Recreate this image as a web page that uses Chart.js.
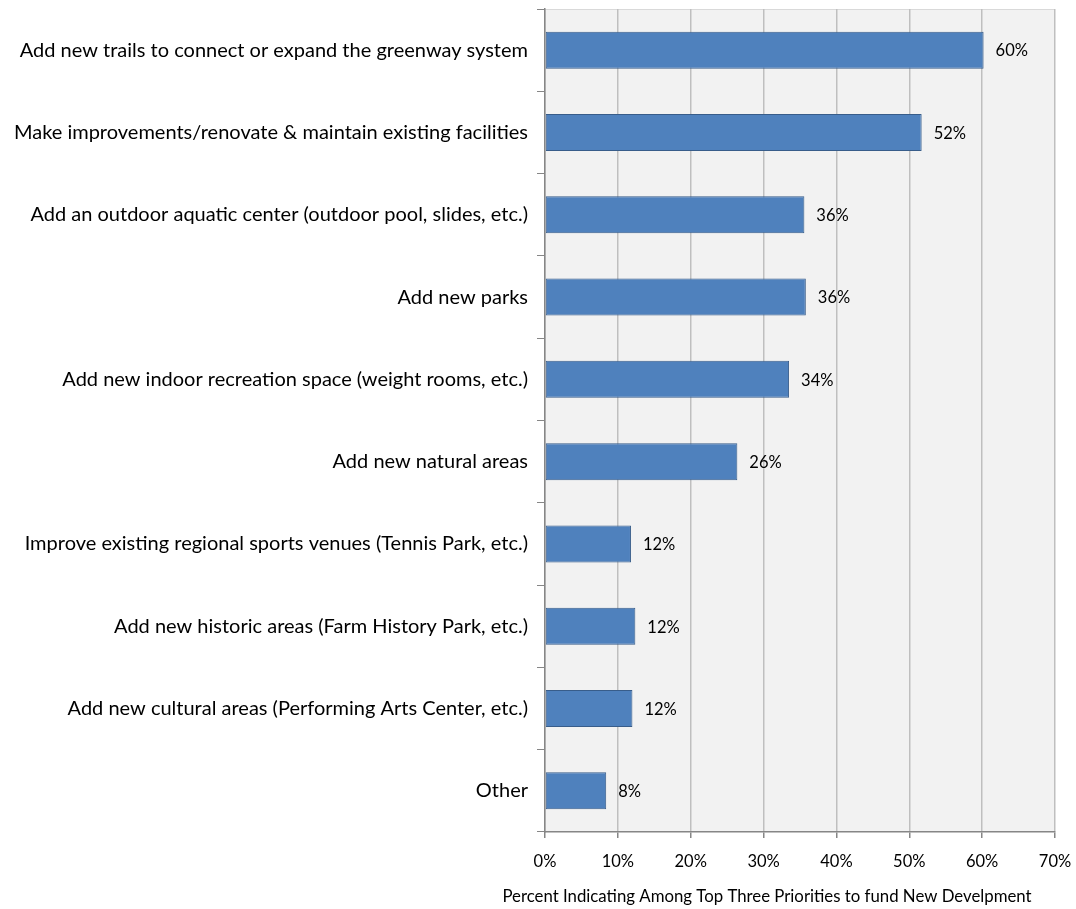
<!DOCTYPE html>
<html>
<head>
<meta charset="utf-8">
<script src="https://cdn.jsdelivr.net/npm/chart.js@4.4.1/dist/chart.umd.min.js"></script>
<style>
  html,body{margin:0;padding:0;background:#fff;}
  #wrap{width:1076px;height:909px;position:relative;}
</style>
</head>
<body>
<div id="wrap"><canvas id="c" width="1076" height="909"></canvas></div>
<script>
// priorities, top to bottom
const categories = [
  'Add new trails to connect or expand the greenway system',
  'Make improvements/renovate & maintain existing facilities',
  'Add an outdoor aquatic center (outdoor pool, slides, etc.)',
  'Add new parks',
  'Add new indoor recreation space (weight rooms, etc.)',
  'Add new natural areas',
  'Improve existing regional sports venues (Tennis Park, etc.)',
  'Add new historic areas (Farm History Park, etc.)',
  'Add new cultural areas (Performing Arts Center, etc.)',
  'Other'
];
const percents = [60.2, 51.7, 35.6, 35.8, 33.5, 26.4, 11.8, 12.4, 12.0, 8.4];
const xTicks = [0, 10, 20, 30, 40, 50, 60, 70];
const xTitle = 'Percent Indicating Among Top Three Priorities to fund New Develpment';

const FONT = 'Lato, "Open Sans", sans-serif';

// grey plot background + top border
const plotBg = {
  id: 'plotBg',
  beforeDraw(chart){
    const {ctx, chartArea:a} = chart;
    ctx.save();
    ctx.fillStyle = '#f2f2f2';
    ctx.fillRect(a.left, a.top, a.right - a.left, a.bottom - a.top);
    ctx.strokeStyle = '#d9d9d9';
    ctx.lineWidth = 1;
    ctx.beginPath();
    ctx.moveTo(a.left, a.top + 0.5);
    ctx.lineTo(a.right, a.top + 0.5);
    ctx.stroke();
    ctx.restore();
  }
};

// value labels at the end of each bar, axis title under the ticks
const barLabels = {
  id: 'barLabels',
  afterDatasetsDraw(chart){
    const {ctx} = chart;
    const meta = chart.getDatasetMeta(0);
    ctx.save();
    ctx.font = '16.5px ' + FONT;
    ctx.fillStyle = '#000';
    ctx.textBaseline = 'middle';
    meta.data.forEach((bar, i) => {
      ctx.fillText(Math.round(percents[i]) + '%', bar.x + 12, bar.y + 1);
    });
    ctx.font = '16.8px ' + FONT;
    ctx.textAlign = 'center';
    ctx.fillText(xTitle, 767, 897);
    ctx.restore();
  }
};

Chart.defaults.animation = false;
new Chart(document.getElementById('c').getContext('2d'), {
  type: 'bar',
  data: {
    labels: categories,
    datasets: [{
      data: percents,
      backgroundColor: '#4f81bd',
      borderColor: '#385d8a',
      borderWidth: 1,
      borderSkipped: false,
      categoryPercentage: 1,
      barPercentage: 0.45
    }]
  },
  options: {
    indexAxis: 'y',
    responsive: false,
    maintainAspectRatio: false,
    layout: {padding: {top: 9, right: 21, left: 0, bottom: 0}},
    plugins: {legend: {display: false}, tooltip: {enabled: false}},
    scales: {
      x: {
        min: 0, max: 70,
        afterBuildTicks(s){ s.ticks = xTicks.map(v => ({value: v})); },
        afterFit(s){ s.height = 77; s.paddingLeft = 0; s.paddingRight = 0; },
        ticks: {
          callback: v => v + '%',
          color: '#000',
          font: {family: FONT, size: 16.5},
          padding: 14
        },
        grid: {color: '#bfbfbf', tickColor: '#868686', tickLength: 6, lineWidth: 1.5},
        border: {color: '#868686', width: 1.5}
      },
      y: {
        afterFit(s){ s.width = 545; s.paddingTop = 0; s.paddingBottom = 0; },
        ticks: {
          color: '#000',
          font: {family: FONT, size: 20},
          padding: 9
        },
        grid: {offset: true, drawOnChartArea: false, color: '#868686', tickLength: 8},
        border: {color: '#868686', width: 1.5}
      }
    }
  },
  plugins: [plotBg, barLabels]
});
</script>
</body>
</html>
